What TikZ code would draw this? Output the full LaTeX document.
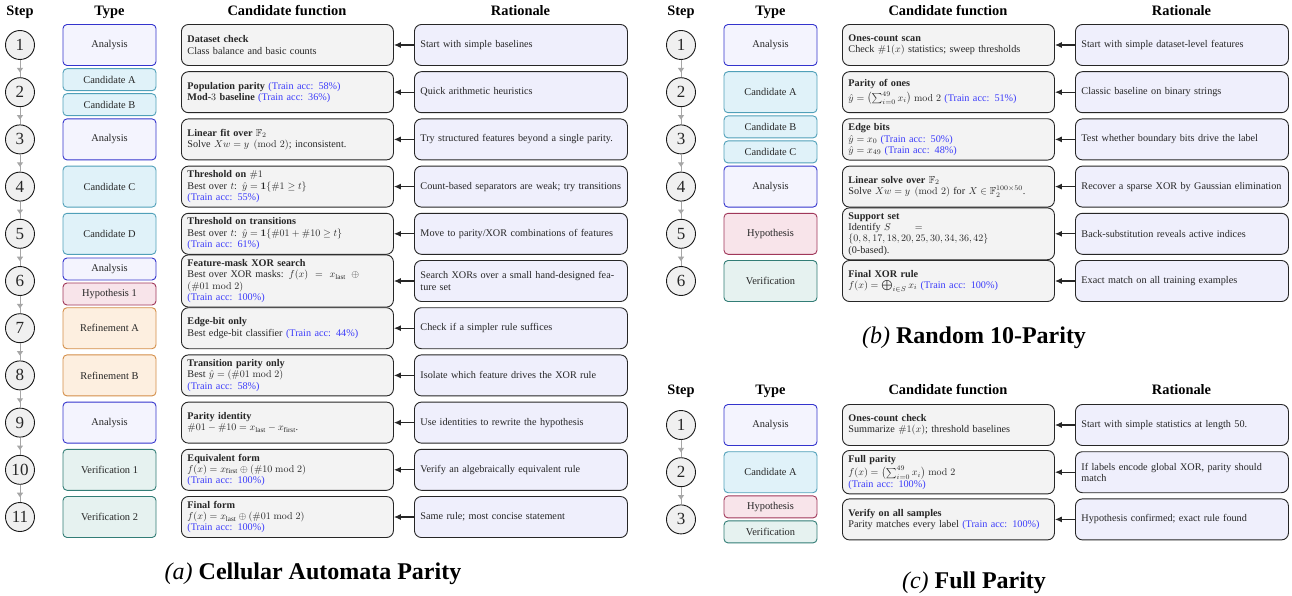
\documentclass[tikz,border=0pt]{standalone}
\usepackage{amsmath,amssymb}
\usepackage[no-math]{fontspec}
\setmainfont{Liberation Serif}
\newfontfamily\tnr{Liberation Serif}
\usetikzlibrary{arrows.meta,calc}
\definecolor{anaB}{RGB}{52,52,205}
\definecolor{anaF}{RGB}{244,244,254}
\definecolor{candB}{RGB}{80,160,185}
\definecolor{candF}{RGB}{224,242,249}
\definecolor{hypB}{RGB}{160,55,90}
\definecolor{hypF}{RGB}{248,228,234}
\definecolor{refB}{RGB}{212,142,72}
\definecolor{refF}{RGB}{253,239,224}
\definecolor{verB}{RGB}{50,125,118}
\definecolor{verF}{RGB}{230,242,240}
\definecolor{fnF}{RGB}{243,243,243}
\definecolor{ratF}{RGB}{239,239,252}
\definecolor{accblue}{RGB}{60,60,250}
\newcommand\acc[1]{\textcolor{accblue}{(Train acc: #1)}}
\newcommand\cfrow[5]{%
  \node[candbox] (#1c) at ({#2+181},#3) {#4};
  \node[ratbox] (#1r) at ({#2+414},#3) {#5};
  \draw[link] (#1r.west) -- (#1c.east);}
\newcommand\tbox[5]{\node[typebox,#4] (#1) at ({#2+109.5},#3) {#5};}
\newcommand\thalf[5]{\node[typebox,halfbox,#4] (#1) at ({#2+109.5},#3) {#5};}
\newcommand\scirc[4]{\node[stepc] (#1) at ({#2+20},#3) {#4};}
\newcommand\sflow[2]{%
  \draw[flow] (#1.south) -- (#2.north);
  \draw[flow,-{Triangle[length=4.5pt,width=6pt]}] (#1.south) -- ($(#1.south)!0.72!(#2.north)$);}
\newcommand\headers[3]{%
  \node[hdr] (#1hs) at ({#2+20},#3) {Step};
  \node[hdr] (#1ht) at ({#2+109.5},#3) {Type};
  \node[hdr] (#1hc) at ({#2+287},#3) {Candidate function};
  \node[hdr] (#1hr) at ({#2+520.5},#3) {Rationale};}
\tikzset{
  bodyfont/.style={font=\fontsize{10.2}{11.3}\selectfont},
  candbox/.style={bodyfont, draw=black!85, line width=0.9pt, fill=fnF, rounded corners=7pt,
    anchor=west, text width=200pt, inner xsep=6pt, inner ysep=4.5pt, minimum height=41pt,
    align=left, text=black!85},
  ratbox/.style={bodyfont, draw=black!85, line width=0.9pt, fill=ratF, rounded corners=7pt,
    anchor=west, text width=201pt, inner xsep=6pt, inner ysep=4pt, minimum height=41pt,
    align=left, text=black!85},
  typebox/.style={font=\fontsize{10.4}{12}\selectfont, rounded corners=4pt, line width=0.9pt, minimum width=93pt,
    minimum height=41pt, inner sep=0pt, text=black!85},
  halfbox/.style={minimum height=22pt},
  analysis/.style={draw=anaB, fill=anaF},
  candidate/.style={draw=candB, fill=candF},
  hypothesis/.style={draw=hypB, fill=hypF},
  refinement/.style={draw=refB, fill=refF},
  verification/.style={draw=verB, fill=verF},
  stepc/.style={circle, draw=black!90, line width=0.9pt, fill=black!6, minimum size=29pt,
    inner sep=0pt, font=\fontsize{17}{19}\selectfont, text=black!85},
  flow/.style={draw=black!35, line width=1pt},
  link/.style={-{Latex[length=7pt,width=6pt]}, line width=1.1pt, draw=black!85},
  hdr/.style={font=\tnr\bfseries\fontsize{14.4}{16}\selectfont, anchor=base},
  capt/.style={font=\tnr\fontsize{24}{28}\selectfont, anchor=base},
}
\begin{document}
\begin{tikzpicture}[x=1pt,y=-1pt]
\fill[white] (0,0) rectangle (1292,596);
\useasboundingbox (0,0) rectangle (1292,596);

%% ================= Panel (a) =================
\headers{a}{0}{15.5}
\scirc{a1s}{0}{45}{1}
\scirc{a2s}{0}{92.2}{2}
\scirc{a3s}{0}{139.4}{3}
\scirc{a4s}{0}{186.6}{4}
\scirc{a5s}{0}{233.8}{5}
\scirc{a6s}{0}{281}{6}
\scirc{a7s}{0}{328.2}{7}
\scirc{a8s}{0}{375.4}{8}
\scirc{a9s}{0}{422.6}{9}
\scirc{a10s}{0}{469.8}{10}
\scirc{a11s}{0}{517}{11}
\sflow{a1s}{a2s}\sflow{a2s}{a3s}\sflow{a3s}{a4s}\sflow{a4s}{a5s}\sflow{a5s}{a6s}
\sflow{a6s}{a7s}\sflow{a7s}{a8s}\sflow{a8s}{a9s}\sflow{a9s}{a10s}\sflow{a10s}{a11s}

\tbox{a1t}{0}{45}{analysis}{Analysis}
\thalf{a2ta}{0}{79.7}{candidate}{Candidate A}
\thalf{a2tb}{0}{104.7}{candidate}{Candidate B}
\tbox{a3t}{0}{139.4}{analysis}{Analysis}
\tbox{a4t}{0}{186.6}{candidate}{Candidate C}
\tbox{a5t}{0}{233.8}{candidate}{Candidate D}
\thalf{a6ta}{0}{269}{analysis}{Analysis}
\thalf{a6tb}{0}{294}{hypothesis}{Hypothesis 1}
\tbox{a7t}{0}{328.2}{refinement}{Refinement A}
\tbox{a8t}{0}{375.4}{refinement}{Refinement B}
\tbox{a9t}{0}{422.6}{analysis}{Analysis}
\tbox{a10t}{0}{469.8}{verification}{Verification 1}
\tbox{a11t}{0}{517}{verification}{Verification 2}

\cfrow{a1}{0}{45}{\textbf{Dataset check}\\Class balance and basic counts}{Start with simple baselines}
\cfrow{a2}{0}{92.2}{\textbf{Population parity} \acc{58\%}\\\textbf{Mod-}$3$ \textbf{baseline} \acc{36\%}}{Quick arithmetic heuristics}
\cfrow{a3}{0}{139.4}{\textbf{Linear fit over $\mathbb{F}_2$}\\Solve $Xw=y \pmod{2}$; inconsistent.}{Try structured features beyond a single parity.}
\cfrow{a4}{0}{186.6}{\textbf{Threshold on $\#1$}\\Best over $t$: $\hat{y}=\mathbf{1}\{\#1\ge t\}$\\\acc{55\%}}{Count-based separators are weak; try transitions}
\cfrow{a5}{0}{233.8}{\textbf{Threshold on transitions}\\Best over $t$: $\hat{y}=\mathbf{1}\{\#01+\#10\ge t\}$\\\acc{61\%}}{Move to parity/XOR combinations of features}
\cfrow{a6}{0}{281}{\textbf{Feature-mask XOR search}\\\makebox[177pt][s]{Best over XOR masks: $f(x)$ \ $=$ \ $x_{\text{last}}\oplus{}$}\\$(\#01 \bmod 2)$\\\acc{100\%}}{\makebox[194pt][s]{Search XORs over a small hand-designed fea-}\\ture set}
\cfrow{a7}{0}{328.2}{\textbf{Edge-bit only}\\Best edge-bit classifier \acc{44\%}}{Check if a simpler rule suffices}
\cfrow{a8}{0}{375.4}{\textbf{Transition parity only}\\Best $\hat{y}=(\#01 \bmod 2)$\\\acc{58\%}}{Isolate which feature drives the XOR rule}
\cfrow{a9}{0}{422.6}{\textbf{Parity identity}\\$\#01-\#10=x_{\text{last}}-x_{\text{first}}$.}{Use identities to rewrite the hypothesis}
\cfrow{a10}{0}{469.8}{\textbf{Equivalent form}\\$f(x)=x_{\text{first}}\oplus(\#10 \bmod 2)$\\\acc{100\%}}{Verify an algebraically equivalent rule}
\cfrow{a11}{0}{517}{\textbf{Final form}\\$f(x)=x_{\text{last}}\oplus(\#01 \bmod 2)$\\\acc{100\%}}{Same rule; most concise statement}

\node[capt] (capa) at (313,579) {{\itshape (a)} \textbf{Cellular Automata Parity}};

%% ================= Panel (b) =================
\headers{b}{661}{15.5}
\scirc{b1s}{661}{45}{1}
\scirc{b2s}{661}{92.2}{2}
\scirc{b3s}{661}{139.4}{3}
\scirc{b4s}{661}{186.6}{4}
\scirc{b5s}{661}{233.8}{5}
\scirc{b6s}{661}{281}{6}
\sflow{b1s}{b2s}\sflow{b2s}{b3s}\sflow{b3s}{b4s}\sflow{b4s}{b5s}\sflow{b5s}{b6s}

\tbox{b1t}{661}{45}{analysis}{Analysis}
\tbox{b2t}{661}{92.2}{candidate}{Candidate A}
\thalf{b3ta}{661}{126.9}{candidate}{Candidate B}
\thalf{b3tb}{661}{151.9}{candidate}{Candidate C}
\tbox{b4t}{661}{186.6}{analysis}{Analysis}
\tbox{b5t}{661}{233.8}{hypothesis}{Hypothesis}
\tbox{b6t}{661}{281}{verification}{Verification}

\cfrow{b1}{661}{45}{\textbf{Ones-count scan}\\Check $\#1(x)$ statistics; sweep thresholds}{Start with simple dataset-level features}
\cfrow{b2}{661}{92.2}{\textbf{Parity of ones}\\[1.5pt]$\hat{y}=\bigl(\sum_{i=0}^{49}x_i\bigr) \bmod 2$ \acc{51\%}}{Classic baseline on binary strings}
\cfrow{b3}{661}{139.4}{\textbf{Edge bits}\\[0.5pt]$\hat{y}=x_0$ \acc{50\%}\\$\hat{y}=x_{49}$ \acc{48\%}}{Test whether boundary bits drive the label}
\cfrow{b4}{661}{186.6}{\textbf{Linear solve over $\mathbb{F}_2$}\\Solve $Xw=y \pmod{2}$ for $X\in\mathbb{F}_2^{100\times 50}$.}{Recover a sparse XOR by Gaussian elimination}
\cfrow{b5}{661}{233.8}{\textbf{Support set}\\Identify $S$\hspace{24pt}$=$\\$\{0,8,17,18,20,25,30,34,36,42\}$\\(0-based).}{Back-substitution reveals active indices}
\cfrow{b6}{661}{281}{\textbf{Final XOR rule}\\$f(x)=\bigoplus_{i\in S}x_i$ \acc{100\%}}{Exact match on all training examples}

\node[capt] (capb) at (974,343) {{\itshape (b)} \textbf{Random 10-Parity}};

%% ================= Panel (c) =================
\headers{c}{661}{394.5}
\scirc{c1s}{661}{425}{1}
\scirc{c2s}{661}{472.2}{2}
\scirc{c3s}{661}{519.4}{3}
\sflow{c1s}{c2s}\sflow{c2s}{c3s}

\tbox{c1t}{661}{425}{analysis}{Analysis}
\tbox{c2t}{661}{472.2}{candidate}{Candidate A}
\thalf{c3ta}{661}{506.9}{hypothesis}{Hypothesis}
\thalf{c3tb}{661}{531.9}{verification}{Verification}

\cfrow{c1}{661}{425}{\textbf{Ones-count check}\\Summarize $\#1(x)$; threshold baselines}{Start with simple statistics at length 50.}
\cfrow{c2}{661}{472.2}{\textbf{Full parity}\\[1pt]$f(x)=\bigl(\sum_{i=0}^{49}x_i\bigr) \bmod 2$\\\acc{100\%}}{If labels encode global XOR, parity should\\match}
\cfrow{c3}{661}{519.4}{\textbf{Verify on all samples}\\Parity matches every label \acc{100\%}}{Hypothesis confirmed; exact rule found}

\node[capt] (capc) at (974,588) {{\itshape (c)} \textbf{Full Parity}};
\end{tikzpicture}
\end{document}
